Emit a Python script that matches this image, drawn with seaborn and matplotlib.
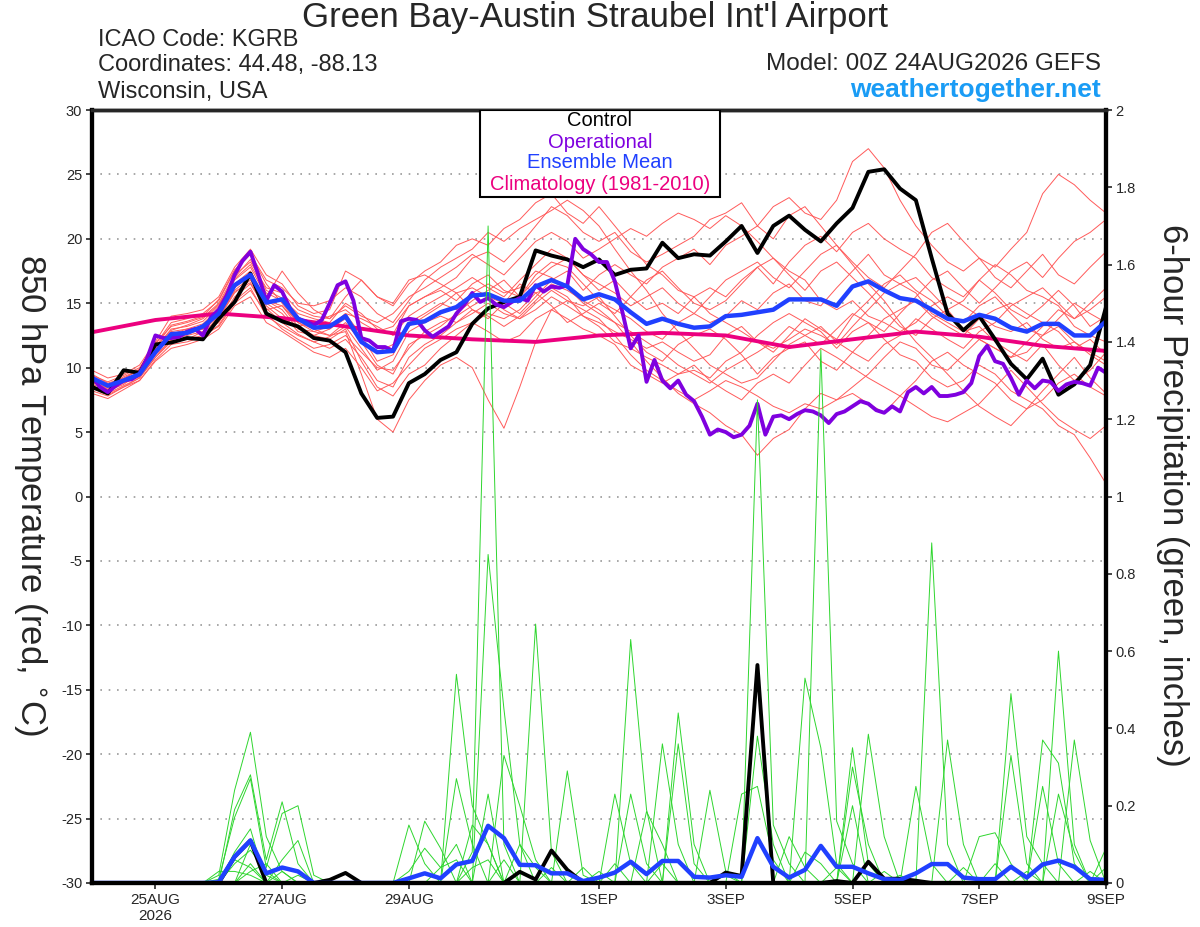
import numpy as np
import pandas as pd
import matplotlib
matplotlib.use("Agg")
import matplotlib.pyplot as plt
from matplotlib.patches import Rectangle
import seaborn as sns

# forecast hours (GEFS 6-hourly, operational 3-hourly), 00Z 24AUG2026 start
hours6 = np.arange(0, 385, 6)
hours3 = np.arange(0, 385, 3)
clim_hours = np.arange(0, 385, 24)

xtick_hours = [24, 72, 120, 192, 240, 288, 336, 384]
xtick_labels = ["25AUG\n2026", "27AUG", "29AUG", "1SEP", "3SEP", "5SEP", "7SEP", "9SEP"]

# 850 hPa temperature, degC
control_t = [8.5, 8.0, 9.8, 9.6, 11.8, 11.95, 12.3, 12.2,
             13.8, 15.1, 17.3, 14.2, 13.6, 13.2, 12.3, 12.1,
             11.2, 8.0, 6.1, 6.2, 8.8, 9.5, 10.6, 11.2,
             13.4, 14.6, 15.1, 15.5, 19.1, 18.7, 18.4, 17.8,
             18.4, 17.2, 17.6, 17.7, 19.7, 18.5, 18.8, 18.7,
             19.8, 21.0, 18.9, 21.0, 21.8, 20.7, 19.8, 21.2,
             22.4, 25.2, 25.4, 23.9, 23.0, 18.5, 14.2, 12.9,
             14.0, 12.2, 10.3, 9.1, 10.7, 7.9, 8.7, 10.2,
             14.7]

mean_t = [9.2, 8.6, 9.0, 9.5, 11.2, 12.6, 12.7, 13.2,
          14.2, 16.4, 17.2, 15.05, 15.3, 13.8, 13.1, 13.2,
          14.0, 12.0, 11.2, 11.3, 13.4, 13.6, 14.3, 14.7,
          15.6, 15.7, 15.2, 15.2, 16.3, 16.8, 16.3, 15.3,
          15.7, 15.3, 14.3, 13.4, 13.8, 13.4, 13.1, 13.2,
          14.0, 14.1, 14.3, 14.5, 15.3, 15.3, 15.3, 14.8,
          16.3, 16.7, 16.0, 15.4, 15.2, 14.5, 13.8, 13.6,
          14.1, 13.8, 13.1, 12.8, 13.4, 13.4, 12.5, 12.5,
          13.6]

oper_t = [9.3, 8.5, 8.1, 8.6, 9.0, 9.1, 9.5, 10.8,
          12.5, 12.3, 12.3, 12.4, 12.8, 13.0, 12.5, 13.9,
          14.5, 15.6, 17.2, 18.3, 19.0, 17.2, 15.2, 16.4,
          15.9, 14.6, 13.8, 13.6, 13.3, 13.7, 15.0, 16.4,
          16.7, 15.2, 12.3, 12.1, 11.6, 11.6, 11.3, 13.6,
          13.8, 13.7, 12.9, 12.4, 12.8, 13.2, 14.2, 14.9,
          15.8, 15.1, 15.4, 14.9, 14.7, 15.1, 15.4, 15.2,
          16.4, 15.9, 16.3, 16.2, 16.4, 20.0, 19.2, 18.8,
          18.2, 18.2, 16.7, 14.2, 11.5, 12.5, 8.9, 10.6,
          9.0, 8.4, 9.0, 7.9, 7.4, 6.2, 4.8, 5.2,
          5.0, 4.6, 4.8, 5.5, 7.2, 4.8, 6.2, 6.3,
          6.0, 6.4, 6.7, 6.6, 6.3, 5.7, 6.4, 6.6,
          7.0, 7.4, 7.2, 6.7, 6.5, 7.0, 6.6, 8.1,
          8.5, 8.0, 8.5, 7.8, 7.8, 7.9, 8.1, 8.8,
          10.9, 11.7, 10.5, 10.3, 9.2, 7.9, 9.0, 8.4,
          9.0, 8.9, 8.2, 8.7, 8.9, 8.8, 8.6, 10.0,
          9.6]

clim_t = [12.75, 13.7, 14.2, 13.85, 13.2, 12.5, 12.2, 12.0, 12.5,
          12.7, 12.5, 11.6, 12.2, 12.8, 12.4, 11.7, 11.3]

# ensemble members, 850 hPa temperature
m01_t = [9.0, 8.3, 8.8, 9.3, 11.5, 13.0, 13.2, 13.6, 14.8, 17.0, 18.4, 16.0, 15.4, 14.2, 13.8, 13.5,
         15.0, 14.2, 13.0, 12.6, 14.8, 15.5, 16.2, 17.0, 18.5, 19.0, 18.2, 19.5, 21.0, 22.5, 21.8, 20.5,
         19.8, 20.5, 19.0, 18.2, 18.8, 19.5, 20.2, 21.5, 22.0, 22.8, 21.0, 22.5, 23.2, 22.0, 21.5, 23.0,
         26.0, 27.0, 25.5, 23.0, 21.0, 19.5, 18.2, 17.5, 18.5, 17.0, 16.2, 17.5, 18.8, 17.2, 16.5, 17.8, 19.0]
m02_t = [8.2, 7.8, 8.5, 9.2, 10.8, 12.2, 12.5, 12.8, 13.5, 15.5, 16.5, 14.5, 14.8, 13.2, 12.5, 12.2,
         13.0, 10.5, 8.5, 7.8, 9.5, 10.2, 11.5, 12.5, 13.5, 14.2, 13.8, 14.5, 15.8, 16.2, 15.5, 14.0,
         13.2, 12.0, 11.5, 10.8, 10.2, 9.5, 9.8, 9.2, 10.5, 11.2, 12.5, 13.5, 14.2, 13.5, 12.8, 11.5,
         12.8, 13.5, 12.2, 11.0, 10.5, 9.2, 8.5, 9.0, 10.2, 9.5, 8.2, 7.5, 6.8, 5.5, 4.8, 3.0, 1.0]
m03_t = [9.5, 8.8, 9.2, 9.8, 11.8, 13.5, 13.8, 14.2, 15.2, 17.5, 18.8, 16.5, 15.0, 13.5, 13.0, 12.5,
         12.8, 9.5, 6.0, 5.0, 7.5, 9.0, 10.2, 10.8, 10.0, 7.5, 5.3, 8.5, 12.0, 14.5, 15.2, 14.8,
         15.5, 14.0, 12.5, 11.2, 10.5, 11.8, 12.5, 13.0, 12.2, 11.0, 9.5, 10.8, 11.5, 12.0, 10.5, 9.8,
         11.2, 12.5, 13.8, 14.5, 15.2, 14.0, 13.2, 12.5, 13.8, 14.5, 15.0, 14.2, 13.5, 12.8, 11.5, 12.2, 11.0]
m04_t = [8.8, 8.5, 9.0, 9.5, 11.0, 12.8, 13.0, 13.2, 14.5, 16.8, 17.8, 15.5, 17.5, 15.8, 14.5, 13.8,
         15.5, 16.8, 15.5, 14.8, 16.5, 17.5, 18.2, 19.5, 20.0, 19.5, 20.8, 21.5, 22.8, 23.5, 22.0, 21.2,
         22.5, 21.0, 19.5, 18.0, 17.2, 16.0, 15.5, 14.2, 13.5, 12.8, 12.0, 11.5, 12.2, 13.0, 12.5, 11.8,
         13.2, 14.5, 15.8, 16.5, 17.0, 15.8, 14.5, 15.2, 16.8, 18.0, 17.2, 16.0, 15.5, 14.8, 13.2, 12.5, 12.0]
m05_t = [9.2, 8.6, 9.3, 9.8, 11.5, 12.5, 12.8, 13.0, 14.2, 16.2, 17.2, 15.0, 14.2, 12.8, 12.5, 13.0,
         14.2, 12.5, 10.5, 11.0, 13.5, 14.2, 15.0, 14.5, 15.8, 16.5, 15.8, 16.2, 17.5, 17.0, 16.2, 15.0,
         14.2, 13.5, 12.0, 10.5, 9.2, 8.0, 7.2, 6.5, 5.5, 4.8, 3.2, 4.5, 5.2, 6.8, 8.0, 7.5,
         8.5, 9.5, 10.8, 12.0, 11.5, 10.2, 9.8, 11.0, 12.2, 11.5, 10.8, 12.0, 13.2, 14.5, 13.8, 15.0, 16.2]
m06_t = [8.5, 8.0, 8.6, 9.2, 10.8, 12.0, 12.2, 12.8, 13.8, 15.8, 16.8, 14.8, 13.8, 13.2, 13.5, 14.0,
         14.5, 13.5, 12.8, 13.2, 14.8, 15.5, 16.0, 15.2, 16.5, 17.2, 16.0, 15.5, 16.8, 17.8, 18.5, 17.2,
         16.5, 15.8, 14.8, 15.5, 16.2, 15.0, 14.2, 15.5, 16.8, 17.5, 18.2, 17.0, 16.2, 17.5, 18.8, 19.5,
         18.2, 17.0, 16.2, 17.5, 18.8, 20.5, 21.2, 19.8, 18.5, 17.8, 19.2, 20.5, 23.5, 25.0, 24.2, 23.0, 22.0]
m07_t = [9.0, 8.2, 8.7, 9.6, 11.2, 12.3, 12.2, 12.5, 13.2, 15.0, 16.0, 14.2, 13.0, 12.2, 11.5, 11.8,
         12.5, 11.2, 10.0, 9.8, 11.5, 12.8, 13.5, 14.0, 14.8, 15.5, 14.5, 13.8, 15.0, 16.0, 15.2, 14.5,
         13.8, 12.5, 11.0, 9.8, 9.0, 8.2, 7.5, 8.2, 9.0, 8.5, 7.8, 7.0, 6.5, 7.2, 6.8, 7.5,
         8.0, 7.2, 6.5, 7.8, 9.0, 10.5, 11.2, 10.2, 9.5, 8.8, 7.5, 6.8, 8.2, 9.5, 10.8, 9.2, 8.0]
m08_t = [9.8, 9.2, 9.5, 10.2, 12.0, 14.0, 14.2, 14.5, 15.5, 17.8, 19.2, 17.2, 16.5, 14.8, 14.2, 14.5,
         17.5, 16.8, 15.5, 15.0, 16.8, 17.2, 16.5, 15.8, 14.5, 13.8, 15.0, 16.5, 15.8, 14.8, 13.5, 14.2,
         15.0, 14.2, 15.5, 16.8, 17.5, 16.2, 15.0, 14.5, 15.2, 16.5, 17.8, 18.5, 17.2, 16.0, 17.5, 18.2,
         17.0, 15.8, 14.5, 13.2, 12.5, 13.8, 14.5, 13.0, 12.2, 11.5, 10.8, 11.2, 12.5, 13.2, 12.0, 11.0, 10.2]
m09_t = [8.6, 8.1, 8.9, 9.4, 11.3, 12.6, 13.0, 13.4, 14.6, 16.5, 17.5, 15.2, 14.8, 13.5, 12.8, 12.5,
         13.5, 12.0, 11.2, 11.8, 13.2, 14.0, 14.8, 15.8, 16.2, 15.5, 15.0, 14.2, 15.5, 16.8, 17.5, 16.0,
         17.2, 18.0, 17.2, 16.5, 17.8, 18.5, 19.2, 18.0, 19.5, 20.2, 21.0, 20.0, 21.8, 22.5, 21.0, 19.5,
         18.0, 16.5, 15.2, 13.5, 12.0, 10.8, 9.5, 8.2, 7.0, 6.2, 5.5, 6.8, 7.5, 8.8, 9.5, 8.5, 7.8]
m10_t = [9.1, 8.7, 9.1, 9.9, 11.6, 12.9, 13.3, 13.8, 14.9, 16.9, 18.0, 15.8, 15.2, 13.8, 13.2, 13.0,
         13.8, 12.0, 10.2, 9.5, 11.8, 12.5, 13.2, 14.2, 15.2, 16.0, 16.8, 15.5, 17.2, 18.2, 17.8, 16.5,
         15.2, 14.5, 13.8, 12.8, 12.2, 13.5, 14.2, 13.5, 14.0, 15.2, 14.5, 15.8, 16.5, 15.2, 14.8, 16.2,
         17.5, 18.8, 17.2, 16.5, 15.8, 14.2, 13.5, 12.8, 13.2, 12.0, 11.2, 10.5, 11.8, 10.2, 9.0, 9.8, 11.2]
m11_t = [8.9, 8.4, 9.0, 9.7, 11.4, 12.4, 12.9, 13.1, 14.0, 16.0, 17.0, 15.2, 14.5, 13.0, 12.8, 13.2,
         14.2, 13.8, 13.2, 12.5, 14.0, 14.8, 15.5, 16.2, 17.0, 16.2, 15.5, 16.8, 18.0, 19.2, 18.5, 17.2,
         16.0, 16.8, 15.5, 14.5, 15.0, 14.2, 15.5, 16.2, 15.5, 16.8, 17.8, 16.5, 18.2, 19.5, 20.2, 19.0,
         20.5, 21.2, 20.0, 19.2, 18.5, 17.0, 16.2, 15.5, 16.8, 15.8, 14.5, 13.8, 14.8, 16.0, 14.8, 13.2, 14.0]
m12_t = [8.0, 7.6, 8.3, 9.0, 10.5, 11.5, 11.8, 12.2, 13.0, 14.8, 15.5, 13.5, 12.8, 12.0, 11.2, 10.8,
         11.5, 10.0, 8.2, 8.8, 10.2, 11.5, 12.2, 13.0, 13.5, 12.8, 12.0, 12.5, 13.8, 14.5, 13.8, 13.0,
         12.5, 11.8, 10.2, 9.5, 8.8, 9.5, 10.2, 9.0, 8.2, 7.5, 8.8, 9.5, 8.8, 10.2, 11.5, 10.8,
         10.0, 9.2, 8.5, 7.8, 7.0, 6.2, 5.8, 6.5, 7.2, 8.5, 9.8, 8.5, 7.2, 6.0, 5.2, 4.5, 5.5]
m13_t = [9.4, 8.9, 9.4, 10.0, 11.9, 13.2, 13.5, 13.9, 15.0, 17.2, 18.2, 16.2, 15.8, 14.5, 14.0, 13.8,
         14.8, 14.0, 13.5, 14.2, 15.5, 16.2, 17.0, 17.8, 18.8, 18.0, 17.2, 18.5, 19.8, 20.5, 19.8, 18.5,
         19.2, 20.0, 20.8, 20.2, 21.2, 22.0, 21.5, 20.8, 21.8, 21.0, 19.8, 18.5, 17.5, 16.8, 15.2, 14.5,
         15.2, 14.0, 13.5, 12.8, 13.5, 14.8, 15.5, 14.8, 14.0, 13.2, 12.8, 13.5, 12.2, 11.5, 12.0, 11.2, 10.5]
m14_t = [8.7, 8.3, 8.9, 9.3, 11.0, 12.1, 12.6, 13.0, 13.9, 15.9, 16.6, 14.6, 13.5, 12.6, 12.0, 12.4,
         13.2, 11.5, 9.8, 10.5, 12.8, 13.5, 14.0, 13.5, 14.2, 15.0, 14.2, 13.8, 14.5, 15.5, 14.8, 14.0,
         13.5, 12.8, 12.2, 11.5, 12.0, 11.2, 10.5, 11.0, 12.5, 13.2, 12.0, 11.2, 12.5, 13.8, 13.0, 12.2,
         14.0, 15.2, 16.5, 17.2, 16.0, 15.2, 14.0, 13.5, 14.8, 15.5, 14.2, 13.0, 12.5, 13.8, 15.0, 14.2, 13.5]
m15_t = [9.3, 8.5, 9.0, 9.6, 11.6, 13.3, 13.6, 14.0, 15.3, 17.6, 18.8, 16.8, 16.2, 15.0, 14.8, 15.2,
         16.2, 15.5, 14.2, 13.5, 15.2, 16.8, 17.8, 18.5, 19.2, 20.5, 19.8, 20.8, 21.5, 22.2, 23.0, 22.2,
         21.0, 19.2, 17.5, 16.0, 14.2, 12.8, 11.5, 10.2, 9.5, 8.8, 9.2, 10.5, 11.8, 12.5, 13.2, 12.0,
         11.2, 10.5, 11.8, 12.5, 13.8, 13.0, 12.2, 11.5, 12.8, 13.5, 14.8, 15.5, 16.2, 15.0, 13.8, 14.5, 15.5]
m16_t = [8.4, 7.9, 8.5, 9.0, 10.6, 11.8, 12.0, 12.4, 13.3, 15.2, 16.2, 14.0, 13.2, 12.5, 12.0, 11.5,
         12.2, 10.8, 9.0, 8.5, 10.8, 11.8, 12.5, 13.5, 14.5, 14.0, 13.2, 14.0, 15.2, 16.5, 16.0, 15.2,
         14.5, 13.5, 12.8, 12.0, 11.2, 10.2, 9.5, 8.8, 9.8, 10.5, 11.2, 12.0, 13.2, 12.5, 11.8, 13.0,
         14.2, 13.5, 12.8, 14.2, 15.5, 16.8, 17.5, 16.2, 15.0, 16.2, 17.5, 18.2, 17.0, 18.5, 19.8, 20.5, 21.5]
members_t = [m01_t, m02_t, m03_t, m04_t, m05_t, m06_t, m07_t, m08_t,
             m09_t, m10_t, m11_t, m12_t, m13_t, m14_t, m15_t, m16_t]

# 6-hour precipitation, inches
control_p = [0, 0, 0, 0, 0, 0, 0, 0, 0, 0.068, 0.11, 0, 0, 0, 0, 0.008,
             0.026, 0, 0, 0, 0, 0, 0, 0, 0, 0, 0, 0.029, 0.009, 0.084, 0.034, 0.001,
             0, 0, 0, 0, 0, 0, 0, 0, 0.027, 0.018, 0.564, 0, 0, 0, 0, 0.005,
             0, 0.055, 0.011, 0.011, 0.006, 0, 0, 0, 0, 0, 0, 0, 0, 0, 0, 0, 0]
mean_p = [0, 0, 0, 0, 0, 0, 0, 0, 0.002, 0.068, 0.11, 0.025, 0.04, 0.03, 0, 0,
          0, 0, 0, 0, 0.012, 0.025, 0.012, 0.048, 0.057, 0.148, 0.116, 0.047, 0.046, 0.025, 0.025, 0.005,
          0.014, 0.027, 0.055, 0.023, 0.057, 0.057, 0.016, 0.014, 0.02, 0.016, 0.116, 0.042, 0.014, 0.034, 0.096, 0.042,
          0.042, 0.025, 0.010, 0.008, 0.025, 0.049, 0.049, 0.014, 0.010, 0.010, 0.042, 0.014, 0.048, 0.058, 0.042, 0.010, 0.008]

# members: forecast step (6 h) -> inches, other steps dry
p01 = {8: 0.02, 9: 0.24, 10: 0.39, 11: 0.12, 12: 0.03, 23: 0.54, 24: 0.20, 25: 0.10,
       34: 0.23, 35: 0.05, 45: 0.53, 46: 0.35, 47: 0.05, 58: 0.49, 59: 0.12, 60: 0.05}
p02 = {9: 0.19, 10: 0.28, 11: 0.06, 12: 0.21, 13: 0.05, 24: 0.08, 25: 1.70, 26: 0.10,
       36: 0.36, 37: 0.10, 46: 1.38, 47: 0.16, 48: 0.05, 61: 0.60, 62: 0.10}
p03 = {8: 0.01, 9: 0.17, 10: 0.27, 11: 0.04, 12: 0.18, 13: 0.20, 14: 0.02, 25: 0.85,
       26: 0.45, 27: 0.10, 42: 1.25, 43: 0.15, 44: 0.05, 53: 0.88, 54: 0.10}
p04 = {9: 0.08, 10: 0.14, 12: 0.06, 13: 0.11, 20: 0.15, 21: 0.05, 23: 0.27, 24: 0.10,
       28: 0.67, 29: 0.08, 37: 0.44, 38: 0.10, 48: 0.35, 49: 0.05, 60: 0.37, 61: 0.31, 62: 0.05}
p05 = {9: 0.05, 10: 0.085, 11: 0.03, 21: 0.16, 22: 0.09, 26: 0.33, 27: 0.20, 28: 0.06,
       34: 0.63, 35: 0.19, 42: 0.38, 43: 0.10, 52: 0.25, 53: 0.05, 58: 0.33, 59: 0.05}
p06 = {10: 0.05, 13: 0.02, 20: 0.03, 21: 0.09, 22: 0.04, 23: 0.10, 25: 0.23, 30: 0.29,
       31: 0.02, 35: 0.185, 36: 0.10, 45: 0.08, 46: 0.05, 49: 0.385, 50: 0.12, 62: 0.37, 63: 0.11}
p07 = {8: 0.03, 9: 0.03, 10: 0.02, 24: 0.15, 25: 0.10, 33: 0.23, 34: 0.05, 39: 0.24,
       40: 0.03, 48: 0.30, 49: 0.10, 54: 0.37, 55: 0.10, 61: 0.23, 62: 0.08}
p08 = {10: 0.10, 11: 0.02, 22: 0.04, 23: 0.06, 27: 0.10, 28: 0.04, 33: 0.05, 37: 0.36,
       38: 0.05, 41: 0.23, 42: 0.25, 43: 0.06, 56: 0.12, 57: 0.13, 58: 0.05, 64: 0.09}
p09 = {9: 0.06, 10: 0.04, 12: 0.03, 26: 0.06, 29: 0.04, 32: 0.03, 44: 0.12, 45: 0.04,
       48: 0.20, 50: 0.03, 55: 0.04, 60: 0.25, 61: 0.05, 63: 0.03}
p10 = {10: 0.03, 11: 0.05, 24: 0.04, 25: 0.06, 31: 0.04, 36: 0.05, 40: 0.02, 47: 0.04,
       51: 0.02, 57: 0.05, 59: 0.03, 64: 0.04}
members_p = [p01, p02, p03, p04, p05, p06, p07, p08, p09, p10]

RED = "#ff5a5a"
GREEN = "#2ed62e"
PURPLE = "#7f00df"
BLUE = "#2040ff"
PINK = "#ec007f"
WEB = "#1a9cf5"

sns.set_style("ticks")
plt.rcParams["font.family"] = ["Liberation Sans", "DejaVu Sans"]
plt.rcParams["axes.unicode_minus"] = False

W, H = 1200, 927
fig = plt.figure(figsize=(W / 100, H / 100), dpi=100)
L, R, T, B = 92, 1106, 110, 883
ax = fig.add_axes([L / W, 1 - B / H, (R - L) / W, (B - T) / H])

# long tables for seaborn
ens_t = pd.DataFrame({
    "member": np.repeat(np.arange(len(members_t)), len(hours6)),
    "hour": np.tile(hours6, len(members_t)),
    "temp": np.concatenate([np.asarray(m, float) for m in members_t]),
})
rows = []
for k, m in enumerate(members_p):
    vals = np.zeros(len(hours6))
    for step, v in m.items():
        vals[step] = v
    rows.append(pd.DataFrame({"member": k, "hour": hours6, "precip": vals}))
ens_p = pd.concat(rows, ignore_index=True)

sns.lineplot(data=ens_t, x="hour", y="temp", units="member", estimator=None,
             color=RED, lw=0.7, ax=ax, legend=False)
sns.lineplot(x=clim_hours, y=clim_t, color=PINK, lw=2.8, ax=ax)
sns.lineplot(x=hours6, y=control_t, color="black", lw=2.8, ax=ax)
sns.lineplot(x=hours3, y=oper_t, color=PURPLE, lw=2.8, ax=ax)
sns.lineplot(x=hours6, y=mean_t, color=BLUE, lw=3.2, ax=ax)

ax.set_xlim(0, 384)
ax.set_ylim(-30, 30)
ax.set_yticks(range(-30, 31, 5))
ax.set_xticks(xtick_hours)
ax.set_xticklabels(xtick_labels, fontsize=11)
ax.tick_params(axis="y", labelsize=10.5, length=4, width=1.2, pad=3)
ax.tick_params(axis="x", length=4, width=1.2, pad=3)
ax.yaxis.grid(True, linestyle=(0, (1, 4)), color="#9a9a9a", lw=1.2)
ax.set_xlabel("")
ax.set_ylabel("")

ax2 = ax.twinx()
sns.lineplot(data=ens_p, x="hour", y="precip", units="member", estimator=None,
             color=GREEN, lw=0.7, ax=ax2, legend=False)
sns.lineplot(x=hours6, y=control_p, color="black", lw=2.8, ax=ax2)
sns.lineplot(x=hours6, y=mean_p, color=BLUE, lw=3.2, ax=ax2)
ax2.set_ylim(0, 2)
ax2.set_xlim(0, 384)
ax2.set_yticks(np.arange(0, 2.01, 0.2))
ax2.set_yticklabels([f"{v:g}" for v in np.arange(0, 2.01, 0.2).round(1)])
ax2.tick_params(axis="y", labelsize=10.5, length=4, width=1.2, pad=3)
ax2.set_ylabel("")

for a in (ax, ax2):
    for side in ("left", "right", "bottom"):
        a.spines[side].set_linewidth(3)
        a.spines[side].set_color("black")
    a.spines["top"].set_linewidth(2.5)
    a.spines["top"].set_visible(True)
    a.spines["right"].set_visible(True)

# legend box at the top centre
x0 = (480 - L) / (R - L)
x1 = (720 - L) / (R - L)
y0 = (B - 197) / (B - T)
ax2.add_patch(Rectangle((x0, y0), x1 - x0, 1 - y0, transform=ax2.transAxes,
                        facecolor="white", edgecolor="black", lw=1.5, zorder=20))
for txt, col, ypix in [("Control", "black", 121), ("Operational", PURPLE, 142),
                       ("Ensemble Mean", BLUE, 163), ("Climatology (1981-2010)", PINK, 185)]:
    fig.text(600 / W, 1 - ypix / H, txt, color=col, fontsize=14.5,
             ha="center", va="center", zorder=30)

fig.text(595 / W, 1 - 18 / H, "Green Bay-Austin Straubel Int'l Airport",
         fontsize=25, ha="center", va="center")
fig.text(98 / W, 1 - 40 / H, "ICAO Code: KGRB", fontsize=17, ha="left", va="center")
fig.text(98 / W, 1 - 65 / H, "Coordinates: 44.48, -88.13", fontsize=17, ha="left", va="center")
fig.text(98 / W, 1 - 92 / H, "Wisconsin, USA", fontsize=17, ha="left", va="center")
fig.text(1101 / W, 1 - 64 / H, "Model: 00Z 24AUG2026 GEFS", fontsize=17.5, ha="right", va="center")
fig.text(1101 / W, 1 - 90 / H, "weathertogether.net", fontsize=19, fontweight="bold",
         color=WEB, ha="right", va="center")

fig.text(30 / W, 1 - 495 / H, "850 hPa Temperature (red, $^{\\circ}$C)", fontsize=25,
         rotation=270, ha="center", va="center")
fig.text(1172 / W, 1 - 495 / H, "6-hour Precipitation (green, inches)", fontsize=25,
         rotation=270, ha="center", va="center")

fig.savefig("out.png", dpi=100)
